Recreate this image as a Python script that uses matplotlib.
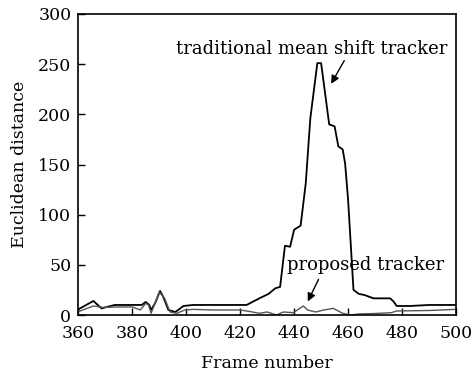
import matplotlib
matplotlib.use("Agg")
import matplotlib.pyplot as plt

# traditional mean shift tracker
trad_x = [360, 365.6, 368.6, 373.5, 380, 383.5, 385, 386.3, 387, 388.5, 390.3, 391.5, 393.4, 396, 397, 399,
          402.6, 410, 422.4, 427.4, 430.5, 433, 434.8, 436.6, 438.5, 440, 442.4, 444.3, 446, 448.6, 450,
          453, 455, 456.4, 458, 458.9, 460, 462, 464, 466, 469.4, 475.6, 477, 478, 483, 490, 500]
trad_y = [5.6, 14, 6.6, 10, 10, 10, 13, 10, 5, 12, 24, 18, 5, 3, 5, 9,
          10, 10, 10, 17, 21, 26.6, 28, 69, 68, 85, 89, 131, 196, 251, 251,
          190, 188, 168, 165, 151, 115, 25, 21, 20, 16.6, 16.6, 13, 9, 9, 10, 10]

# proposed tracker
prop_x = [360, 365.6, 369, 375, 380, 383, 385, 386, 387, 390, 392, 394, 396.5, 399.5, 402.6, 410, 420,
          424, 427, 430, 433.5, 436, 439.7, 443.4, 445, 448, 451, 454.5, 458, 460.7, 464, 470, 476, 478,
          490, 500]
prop_y = [3.3, 9, 7.6, 8, 8, 5, 11.6, 10, 1.7, 23, 16.6, 3, 1.7, 5, 5.6, 5, 5,
          3.3, 1.7, 3, 0, 3, 2.3, 9, 5, 3, 5, 6.6, 1.7, 0, 1, 1.5, 2.3, 4,
          4.5, 5.6]

plt.rcParams["font.family"] = ["DejaVu Serif"]
fig = plt.figure(figsize=(4.72, 3.74), dpi=100)
ax = fig.add_axes([78.3 / 472, 59 / 374, 377.7 / 472, 301 / 374])

ax.plot(trad_x, trad_y, color="black", lw=1.3)
ax.plot(prop_x, prop_y, color="#555555", lw=1.0)

ax.set_xlim(360, 500)
ax.set_ylim(0, 300)
ax.set_xticks(range(360, 501, 20))
ax.set_yticks(range(0, 301, 50))
ax.tick_params(direction="in", length=5, width=1, labelsize=12.5)
ax.tick_params(axis="x", pad=7.5)
ax.tick_params(axis="y", pad=5)
for s in ax.spines.values():
    s.set_linewidth(1.2)

ax.set_xlabel("Frame number", fontsize=12.5, labelpad=9)
ax.set_ylabel("Euclidean distance", fontsize=12.5, labelpad=7)

ax.text(446.6, 265, "traditional mean shift tracker", ha="center", va="center", fontsize=13)
ax.annotate("", xy=(453.2, 228), xytext=(459.1, 256),
            arrowprops=dict(arrowstyle="-|>", color="black", lw=1, mutation_scale=12))
ax.text(466.5, 50, "proposed tracker", ha="center", va="center", fontsize=13)
ax.annotate("", xy=(444.6, 11), xytext=(449.5, 38),
            arrowprops=dict(arrowstyle="-|>", color="black", lw=1, mutation_scale=12))

fig.savefig("out.png", dpi=100)
